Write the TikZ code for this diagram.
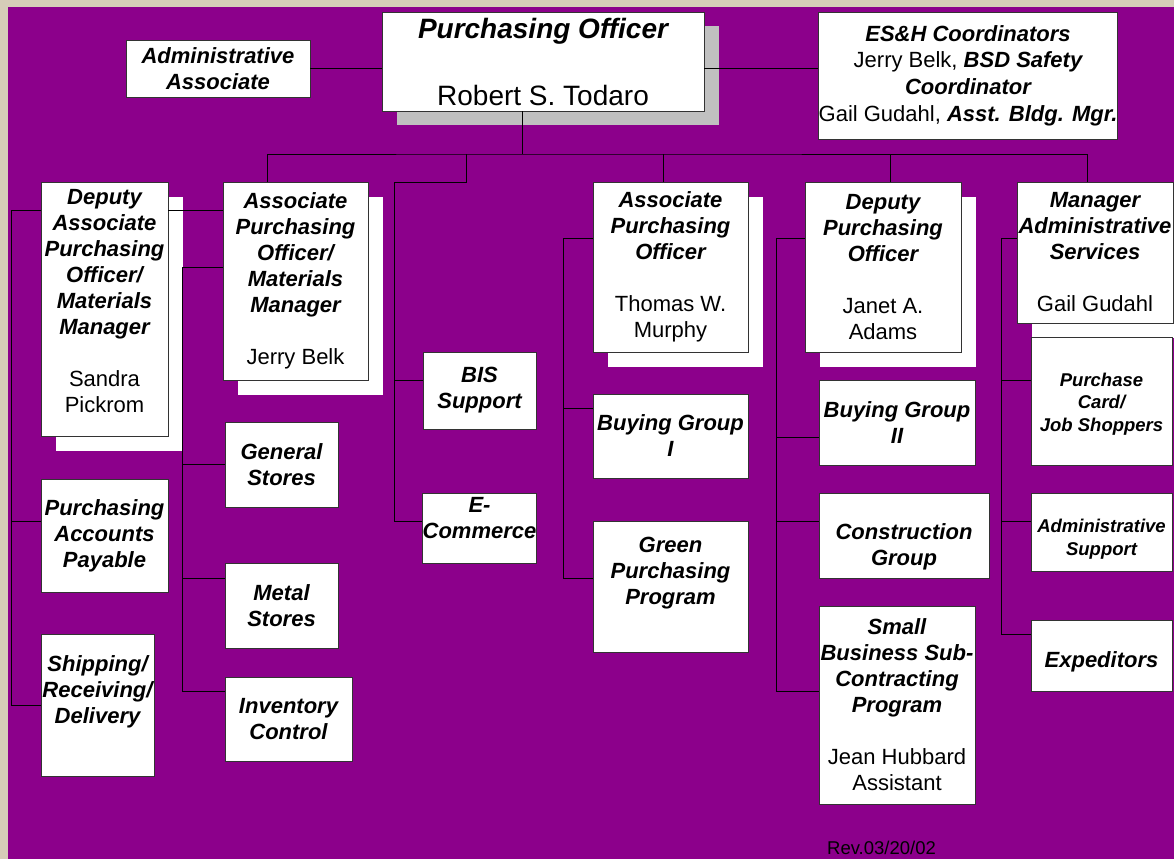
\documentclass[tikz,border=0pt]{standalone}
\usepackage{fontspec}
\setmainfont{Liberation Sans}
\usepackage{tikz}
\usetikzlibrary{shadows}

\definecolor{orgpurple}{RGB}{140,0,139}
\definecolor{framebeige}{RGB}{214,205,184}
\definecolor{shadowgray}{RGB}{192,192,192}

\newcommand{\unitfont}{\fontsize{22}{26}\selectfont\bfseries\itshape}
\newcommand{\subfont}{\fontsize{18.5}{22.5}\selectfont\bfseries\itshape}
\newcommand{\topfont}{\fontsize{28}{33.5}\selectfont\bfseries\itshape}
\newcommand{\who}[1]{{\mdseries\upshape #1}}

\tikzset{
  unit/.style={draw=black!80, fill=white, line width=0.75pt, inner sep=0pt, align=center, font=\unitfont},
  subunit/.style={unit, font=\subfont},
  whiteshadow/.style={drop shadow={shadow xshift=14.5pt, shadow yshift=-14.5pt, fill=white, opacity=1}},
  grayshadow/.style={drop shadow={shadow xshift=15pt, shadow yshift=-14pt, fill=shadowgray, opacity=1}},
  link/.style={draw=black, line width=0.8pt}
}

\begin{document}
\begin{tikzpicture}[x=1pt, y=-1pt]

        % Frame and background
        \useasboundingbox (0,0) rectangle (1174,859);
        \fill[framebeige] (0,0) rectangle (1174,859);
        \fill[orgpurple] (8,7) rectangle (1174,859);

        % Top row
        \node[unit, minimum width=184pt, minimum height=57pt] (admin) at (218,68.5) {Administrative\\Associate};
        \node[unit, font=\topfont, grayshadow, minimum width=322pt, minimum height=99pt] (officer) at (543,61.5) {Purchasing Officer\\[33.5pt]\who{Robert S. Todaro}};
        \node[unit, font=\fontsize{22}{26.7}\selectfont\bfseries\itshape, minimum width=296pt, minimum height=127pt] (esh) at (968,75.5) {ES\&H Coordinators\\\who{Jerry Belk,} BSD Safety\\Coordinator\\\who{Gail Gudahl,} Asst. Bldg. Mgr.};
        \draw[link] (admin.east) -- (admin.east -| officer.west);
        \draw[link] ([yshift=-6.5pt]officer.east) -- ([yshift=-6.5pt]officer.east -| esh.west);

        % Materials management
        \node[unit, whiteshadow, minimum width=127pt, minimum height=254pt] (depassoc) at (104.5,309) {Deputy\\Associate\\Purchasing\\Officer/\\Materials\\Manager\\[26pt]\who{Sandra}\\\who{Pickrom}\\[-10pt]~};
        \node[unit, whiteshadow, minimum width=145pt, minimum height=198pt] (assocmm) at (295.5,281) {Associate\\Purchasing\\Officer/\\Materials\\Manager\\[26pt]\who{Jerry Belk}};
        \node[unit, minimum width=127pt, minimum height=113pt] (payable) at (104.5,535.5) {Purchasing\\Accounts\\Payable};
        \node[unit, minimum width=113pt, minimum height=142pt] (shipping) at (97.5,705) {Shipping/\\Receiving/\\Delivery\\[4.6pt]~};
        \node[unit, minimum width=113pt, minimum height=85pt] (genstores) at (281.5,464.5) {General\\Stores};
        \node[unit, minimum width=113pt, minimum height=85pt] (metal) at (281.5,605.5) {Metal\\Stores};
        \node[unit, minimum width=127pt, minimum height=84pt] (inventory) at (288.5,719) {Inventory\\Control};

        % Business systems
        \node[unit, minimum width=113pt, minimum height=77pt] (bis) at (479.5,390.5) {BIS\\Support};
        \node[unit, minimum width=113pt, minimum height=70pt] (ecommerce) at (479.5,528) {E-\\Commerce\\[-6pt]~};

        % Associate purchasing officer
        \node[unit, whiteshadow, minimum width=155pt, minimum height=170pt] (assoc) at (670.5,267) {Associate\\Purchasing\\Officer\\[26pt]\who{Thomas W.}\\\who{Murphy}};
        \node[unit, minimum width=155pt, minimum height=84pt] (buying1) at (670.5,436) {Buying Group\\I};
        \node[unit, minimum width=155pt, minimum height=131pt] (green) at (670.5,586.5) {Green\\Purchasing\\Program\\[4.6pt]~};

        % Deputy purchasing officer
        \node[unit, whiteshadow, minimum width=156pt, minimum height=170pt] (deputy) at (883,267) {Deputy\\Purchasing\\Officer\\[26pt]\who{Janet A.}\\\who{Adams}};
        \node[unit, minimum width=156pt, minimum height=85pt] (buying2) at (897,422.5) {Buying Group\\II};
        \node[unit, minimum width=170pt, minimum height=85pt] (construction) at (904,535.5) {~\\[12pt]Construction\\Group};
        \node[unit, minimum width=156pt, minimum height=198pt] (smallbiz) at (897,705) {Small\\Business Sub-\\Contracting\\Program\\[26pt]\who{Jean Hubbard}\\\who{Assistant}};

        % Administrative services
        \node[unit, whiteshadow, minimum width=156pt, minimum height=141pt] (adminsvc) at (1095,252.5) {Manager\\Administrative\\Services\\[26pt]\who{Gail Gudahl}};
        \node[subunit, minimum width=141pt, minimum height=128pt] (pcard) at (1101.5,401) {~\\[-3.5pt]Purchase\\Card/\\Job Shoppers};
        \node[subunit, minimum width=141pt, minimum height=78pt] (adminsupport) at (1101.5,532) {~\\[5pt]Administrative\\Support};
        \node[unit, minimum width=141pt, minimum height=71pt] (expeditors) at (1101.5,655.5) {~\\[2pt]Expeditors};

        % Revision note
        \node[font=\fontsize{18.5}{22}\selectfont, inner sep=0pt, anchor=base west] (rev) at (827,854) {Rev.03/20/02};

        % Main bus
        \coordinate (bus) at (522,154);
        \coordinate (bistop) at (394,182);
        \draw[link] ([xshift=-21pt]officer.south) -- (bus);
        \draw[link] ([xshift=-28.5pt]assocmm.north) |- (bus) -| ([xshift=-8pt]adminsvc.north);
        \draw[link] ([xshift=-7.5pt]assoc.north) -- ++(0,-28);
        \draw[link] ([xshift=7pt]deputy.north) -- ++(0,-28);
        \draw[link] (bistop) -- ++(72,0) -- ++(0,-28);

        % Materials branches
        \draw[link] ([yshift=99pt]depassoc.east) -- ([yshift=71pt]assocmm.west);
        \draw[link] ([yshift=99pt]depassoc.west) -- ++(-29,0) |- (shipping.west);
        \draw[link] ([yshift=14.5pt]payable.west) -- ++(-29,0);
        \draw[link] ([yshift=14pt]assocmm.west) -- ++(-40,0) |- ([yshift=28pt]inventory.west);
        \draw[link] (genstores.west) -- ++(-42,0);
        \draw[link] ([yshift=27.5pt]metal.west) -- ++(-42,0);

        % Business systems branches
        \draw[link] (bistop) |- ([yshift=7pt]ecommerce.west);
        \draw[link] ([yshift=10.5pt]bis.west) -- ++(-29,0);

        % Associate purchasing branches
        \draw[link] ([yshift=29pt]assoc.west) -- ++(-29,0) |- ([yshift=8.5pt]green.west);
        \draw[link] ([yshift=28pt]buying1.west) -- ++(-29,0);

        % Deputy purchasing branches
        \draw[link] ([yshift=29pt]deputy.west) -- ++(-28,0) |- ([yshift=14pt]smallbiz.west);
        \draw[link] ([yshift=-14.5pt]buying2.west) -- ++(-42,0);
        \draw[link] ([yshift=14.5pt]construction.west) -- ++(-42,0);

        % Administrative services branches
        \draw[link] ([yshift=14.5pt]adminsvc.west) -- ++(-15,0) |- ([yshift=21.5pt]expeditors.west);
        \draw[link] ([yshift=21pt]pcard.west) -- ++(-29,0);
        \draw[link] ([yshift=11pt]adminsupport.west) -- ++(-29,0);

\end{tikzpicture}
\end{document}
